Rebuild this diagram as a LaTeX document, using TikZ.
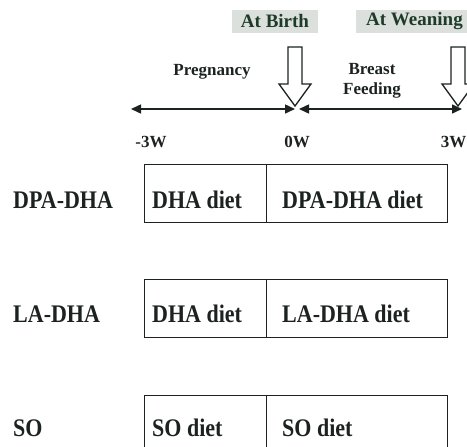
\documentclass[tikz,border=0pt]{standalone}
\usepackage{fontspec}
\setmainfont{Liberation Serif}
\usetikzlibrary{arrows.meta}
\definecolor{ink}{HTML}{1C221F}
\definecolor{tagbg}{HTML}{DCE0DC}
\definecolor{tagink}{HTML}{1E3B2A}
\newcommand{\tallt}[1]{\scalebox{1}[1.15]{#1}}
\tikzset{
  lbl/.style={font=\fontsize{22}{24}\selectfont\bfseries, text=ink, inner sep=0pt, anchor=base west},
  small/.style={font=\fontsize{17}{20}\selectfont\bfseries, text=ink, inner sep=0pt, anchor=base},
  tag/.style={font=\fontsize{19}{22}\selectfont\bfseries, text=tagink, fill=tagbg, inner ysep=0pt, minimum height=23pt},
  cell/.style={draw=ink, line width=1.3pt, minimum height=58pt, inner sep=0pt, anchor=north west},
  hollow/.style={draw=ink, line width=1.3pt, fill=white, line join=miter},
  tl/.style={draw=ink, line width=1.5pt, {Triangle[length=10pt,width=9pt]}-{Triangle[length=10pt,width=9pt]}}
}
\begin{document}
\begin{tikzpicture}[x=1pt,y=-1pt]
\useasboundingbox (0,0) rectangle (467,447);
% event tags
\node[tag, minimum width=86pt, inner xsep=0pt] (birth) at (275,21.5) {At Birth};
\node[tag, anchor=west, inner xsep=10pt] (wean) at (356,21.5) {At Weaning};
% hollow arrows
\draw[hollow] (288,47) -- (302,47) -- (302,84) -- (311,84) -- (295,106) -- (279,84) -- (288,84) -- cycle;
\draw[hollow] (451,47) -- (465,47) -- (465,84) -- (474,84) -- (458,106) -- (442,84) -- (451,84) -- cycle;
% timeline
\coordinate (tA) at (131,109);
\coordinate (tB) at (295,109);
\coordinate (tC) at (299,109);
\coordinate (tD) at (462,109);
\draw[tl] (tA) -- (tB);
\draw[tl] (tC) -- (tD);
% period labels
\node[small] (preg) at (212,75) {Pregnancy};
\node[small, anchor=center, align=center] (breast) at (372,81) {Breast\\Feeding};
% time labels
\node[small] (wm3) at (151,147) {-3W};
\node[small] (w0) at (297,147) {0W};
\node[small, anchor=base east] (w3) at (466.5,147) {3W};
% row 1
\node[cell, minimum width=122pt] (r1a) at (144,164) {};
\node[cell, minimum width=181pt] (r1b) at (266,164) {};
\node[lbl] (g1) at (13,208) {\tallt{DPA-DHA}};
\node[lbl] (r1at) at (152,208) {\tallt{DHA diet}};
\node[lbl] (r1bt) at (282,208) {\tallt{DPA-DHA diet}};
% row 2
\node[cell, minimum width=122pt] (r2a) at (144,279) {};
\node[cell, minimum width=181pt] (r2b) at (266,279) {};
\node[lbl] (g2) at (13,322) {\tallt{LA-DHA}};
\node[lbl] (r2at) at (152,322) {\tallt{DHA diet}};
\node[lbl] (r2bt) at (282,322) {\tallt{LA-DHA diet}};
% row 3
\node[cell, minimum width=122pt] (r3a) at (144,395) {};
\node[cell, minimum width=181pt] (r3b) at (266,395) {};
\node[lbl] (g3) at (13,436) {\tallt{SO}};
\node[lbl] (r3at) at (152,436) {\tallt{SO diet}};
\node[lbl] (r3bt) at (282,436) {\tallt{SO diet}};
\end{tikzpicture}
\end{document}
